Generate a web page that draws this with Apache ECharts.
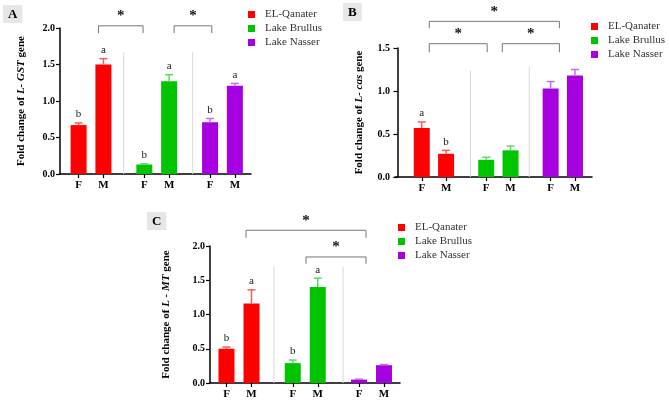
<!DOCTYPE html>
<html>
<head>
<meta charset="utf-8">
<script src="https://cdn.jsdelivr.net/npm/echarts@6/dist/echarts.min.js"></script>
<style>
  html, body { margin: 0; padding: 0; background: #fff; }
  #main { width: 669px; height: 400px; }
</style>
</head>
<body>
<div id="main"></div>
<script>
// groups and sexes
var groups = ['EL-Qanater', 'Lake Brullus', 'Lake Nasser'];
var sexLabels = ['F', 'M', 'F', 'M', 'F', 'M'];

// L-GST (panel A)
var gstMean = [0.67, 1.50, 0.13, 1.27, 0.71, 1.21];
var gstErr = [0.03, 0.08, 0.01, 0.09, 0.05, 0.03];
var gstLetters = ['b', 'a', 'b', 'a', 'b', 'a'];

// L-cas (panel B)
var casMean = [0.57, 0.27, 0.20, 0.31, 1.03, 1.18];
var casErr = [0.07, 0.04, 0.03, 0.05, 0.08, 0.07];
var casLetters = ['a', 'b', '', '', '', ''];

// L-MT (panel C)
var mtMean = [0.50, 1.16, 0.29, 1.40, 0.05, 0.26];
var mtErr = [0.025, 0.20, 0.045, 0.13, 0.006, 0.01];
var mtLetters = ['b', 'a', 'b', 'a', '', ''];

// layout: where each bar sits on the x value axis
var slots = [1, 2, 3.65, 4.65, 6.3, 7.3];
var colors = ['#ff0000', '#00c400', '#a600e0'];
var errColors = ['#ff5a5a', '#5fd85f', '#c56cf0'];
var FONT = '"Liberation Serif", "Times New Roman", serif';

var panels = [
    {
        letter: 'A', mean: gstMean, err: gstErr, letters: gstLetters,
        gene: 'GST', sep: 'L- ', yMax: 2.0,
        grid: {left: 60, top: 28, width: 191, height: 146},
        xMin: 0.25, xMax: 7.95, nameGap: 33,
        seps: [[2.82, 1.67], [5.6, 1.67]],
        brackets: [[1.8, 3.6, 2.03, 0.1], [4.85, 6.37, 2.03, 0.1]],
        title: {left: 3, top: 5},
        legend: {left: 248, top: 9}
    },
    {
        letter: 'B', mean: casMean, err: casErr, letters: casLetters,
        gene: 'cas', sep: 'L- ', yMax: 1.5,
        grid: {left: 395, top: 48, width: 197, height: 129},
        xMin: -0.1, xMax: 8.0, nameGap: 30,
        seps: [[3.0, 1.24], [5.42, 1.28]],
        brackets: [[1.31, 6.66, 1.81, 0.08], [1.31, 3.69, 1.55, 0.1], [4.31, 6.66, 1.55, 0.1]],
        title: {left: 343, top: 3},
        legend: {left: 591, top: 21}
    },
    {
        letter: 'C', mean: mtMean, err: mtErr, letters: mtLetters,
        gene: 'MT', sep: 'L - ', yMax: 2.0,
        grid: {left: 210, top: 246, width: 190, height: 138},
        xMin: 0.34, xMax: 7.94, nameGap: 38,
        seps: [[2.9, 1.70], [5.66, 1.70]],
        brackets: [[1.78, 6.58, 2.23, 0.11], [4.18, 6.58, 1.84, 0.1]],
        title: {left: 147, top: 212},
        legend: {left: 398, top: 222}
    }
];

var grids = [], xAxes = [], yAxes = [], series = [], titles = [], legends = [];

panels.forEach(function (p, k) {
    grids.push(p.grid);
    titles.push({
        text: p.letter, left: p.title.left, top: p.title.top,
        backgroundColor: '#e6e6e6', padding: [3, 5, 2, 5],
        textStyle: {fontFamily: FONT, fontWeight: 'bold', fontSize: 13, color: '#000'}
    });
    legends.push({
        data: groups, orient: 'vertical', left: p.legend.left, top: p.legend.top,
        padding: 0, icon: 'rect', itemWidth: 7, itemHeight: 7, itemGap: 3,
        selectedMode: false,
        textStyle: {fontFamily: FONT, fontSize: 11, color: '#333', padding: [0, 0, 0, 5]}
    });
    xAxes.push({
        type: 'value', gridIndex: k, min: p.xMin, max: p.xMax,
        axisLine: {show: true, lineStyle: {color: '#000', width: 1.5}},
        axisTick: {show: true, customValues: slots, length: 4, lineStyle: {color: '#000', width: 1.2}},
        axisLabel: {
            customValues: slots, margin: 6,
            fontFamily: FONT, fontWeight: 'bold', fontSize: 11, color: '#000',
            formatter: function (v) {
                var i = slots.indexOf(v);
                return i >= 0 ? sexLabels[i] : '';
            }
        },
        splitLine: {show: false}
    });
    yAxes.push({
        type: 'value', gridIndex: k, min: 0, max: p.yMax, interval: 0.5,
        name: 'Fold change of {i|' + p.sep + p.gene + '} gene',
        nameLocation: 'middle', nameRotate: 90, nameGap: p.nameGap,
        nameTextStyle: {
            fontFamily: FONT, fontWeight: 'bold', fontSize: 11, color: '#000',
            rich: {i: {fontFamily: FONT, fontWeight: 'bold', fontStyle: 'italic', fontSize: 11, color: '#000'}}
        },
        axisLine: {show: true, lineStyle: {color: '#000', width: 1.5}},
        axisTick: {show: true, length: 4, lineStyle: {color: '#000', width: 1.2}},
        axisLabel: {
            margin: 5, fontFamily: FONT, fontWeight: 'bold', fontSize: 10, color: '#000',
            formatter: function (v) { return v.toFixed(1); }
        },
        splitLine: {show: false}
    });

    groups.forEach(function (g, gi) {
        series.push({
            name: g, type: 'bar', xAxisIndex: k, yAxisIndex: k,
            barWidth: 16, barGap: '-100%',
            itemStyle: {color: colors[gi]},
            data: [[slots[gi * 2], p.mean[gi * 2]], [slots[gi * 2 + 1], p.mean[gi * 2 + 1]]],
            z: 3
        });
    });

    // error bars + letters
    series.push({
        type: 'custom', xAxisIndex: k, yAxisIndex: k, z: 4, silent: true,
        data: p.mean.map(function (m, i) { return [slots[i], m, p.err[i], i]; }),
        renderItem: function (params, api) {
            var i = api.value(3);
            var base = api.coord([api.value(0), api.value(1)]);
            var top = api.coord([api.value(0), api.value(1) + api.value(2)]);
            var c = errColors[Math.floor(i / 2)];
            var kids = [
                {type: 'line', shape: {x1: base[0], y1: base[1], x2: top[0], y2: top[1]},
                    style: {stroke: c, lineWidth: 1.5}},
                {type: 'line', shape: {x1: top[0] - 4, y1: top[1], x2: top[0] + 4, y2: top[1]},
                    style: {stroke: c, lineWidth: 1.5}}
            ];
            if (p.letters[i]) {
                kids.push({type: 'text', x: top[0], y: top[1] - 3,
                    style: {text: p.letters[i], fontFamily: FONT, fontSize: 11, fill: '#222',
                        align: 'center', verticalAlign: 'bottom'}});
            }
            return {type: 'group', children: kids};
        }
    });

    // light separators between groups
    series.push({
        type: 'custom', xAxisIndex: k, yAxisIndex: k, z: 1, silent: true,
        data: p.seps,
        renderItem: function (params, api) {
            var a = api.coord([api.value(0), 0]);
            var b = api.coord([api.value(0), api.value(1)]);
            return {type: 'line', shape: {x1: a[0], y1: a[1], x2: b[0], y2: b[1]},
                style: {stroke: '#d8d8d8', lineWidth: 1}};
        }
    });

    // significance brackets
    series.push({
        type: 'custom', xAxisIndex: k, yAxisIndex: k, z: 2, silent: true, clip: false,
        encode: {x: [0, 1], y: 2},
        data: p.brackets,
        renderItem: function (params, api) {
            var l = api.coord([api.value(0), api.value(2)]);
            var r = api.coord([api.value(1), api.value(2)]);
            var lb = api.coord([api.value(0), api.value(2) - api.value(3)]);
            return {type: 'group', children: [
                {type: 'polyline', shape: {points: [[lb[0], lb[1]], [l[0], l[1]], [r[0], r[1]], [r[0], lb[1]]]},
                    style: {stroke: '#777', lineWidth: 1, fill: 'none'}},
                {type: 'text', x: (l[0] + r[0]) / 2, y: l[1] - 2,
                    style: {text: '*', fontFamily: FONT, fontWeight: 'bold', fontSize: 15, fill: '#111',
                        align: 'center', verticalAlign: 'bottom'}}
            ]};
        }
    });
});

var chart = echarts.init(document.getElementById('main'));
chart.setOption({
    backgroundColor: '#fff',
    animation: false,
    title: titles,
    legend: legends,
    grid: grids,
    xAxis: xAxes,
    yAxis: yAxes,
    series: series
});
</script>
</body>
</html>
